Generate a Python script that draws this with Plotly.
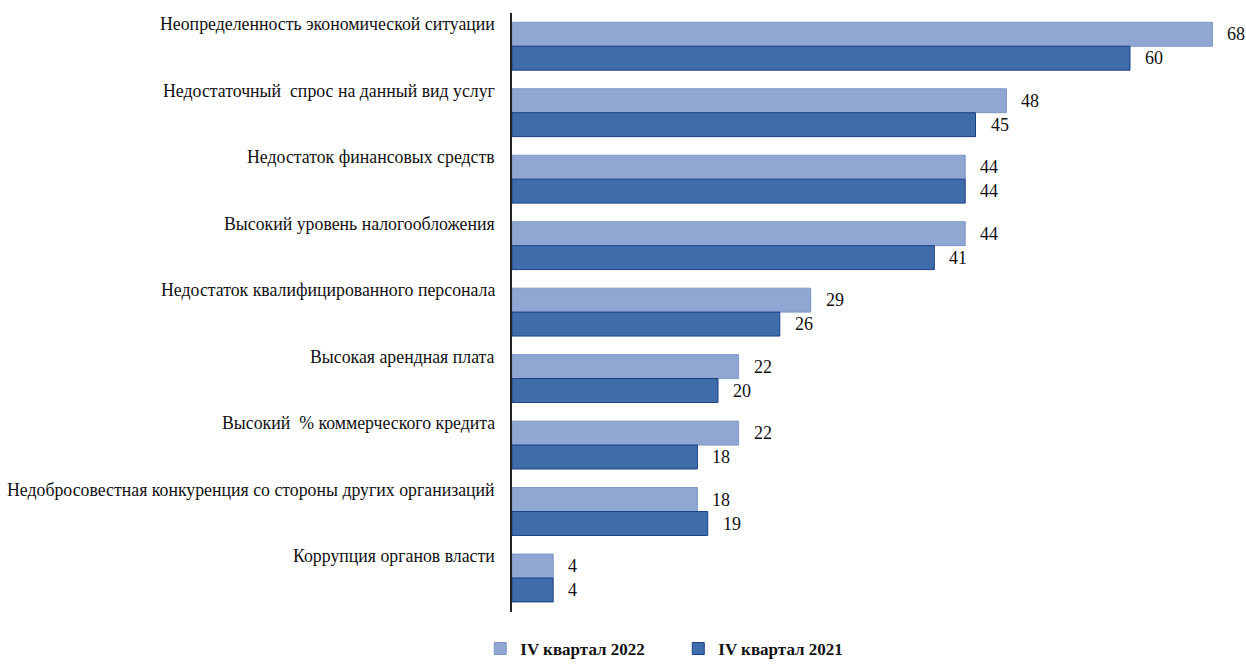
import plotly.graph_objects as go

categories = [
    "Неопределенность экономической ситуации",
    "Недостаточный  спрос на данный вид услуг",
    "Недостаток финансовых средств",
    "Высокий уровень налогообложения",
    "Недостаток квалифицированного персонала",
    "Высокая арендная плата",
    "Высокий  % коммерческого кредита",
    "Недобросовестная конкуренция со стороны других организаций",
    "Коррупция органов власти",
]
q4_2022 = [68, 48, 44, 44, 29, 22, 22, 18, 4]
q4_2021 = [60, 45, 44, 41, 26, 20, 18, 19, 4]

FONT = "Liberation Serif"
LIGHT = "#8fa7d2"
DARK = "#3f6daa"

fig = go.Figure()
fig.add_trace(go.Bar(
    y=categories, x=q4_2022, orientation="h", name="IV квартал 2022",
    marker=dict(color=LIGHT, line=dict(color="#7d96c4", width=1)),
))
fig.add_trace(go.Bar(
    y=categories, x=q4_2021, orientation="h", name="IV квартал 2021",
    marker=dict(color=DARK, line=dict(color="#1d3f85", width=1)),
))

annotations = []
# category captions sit above the centre of each pair of bars
for cat in categories:
    annotations.append(dict(
        x=0, xref="paper", y=cat, yref="y", text=cat.replace("  ", "&nbsp; "),
        xanchor="right", yanchor="middle", xshift=-15, yshift=22,
        showarrow=False, font=dict(family=FONT, size=17.8, color="#111"),
    ))
# value labels to the right of each bar
for values, dy in ((q4_2022, 12), (q4_2021, -12)):
    for cat, v in zip(categories, values):
        annotations.append(dict(
            x=v, y=cat, text=str(v), xanchor="left", yanchor="middle",
            xshift=13, yshift=dy, showarrow=False,
            font=dict(family=FONT, size=18, color="#111"),
        ))

fig.update_layout(
    width=1246, height=667,
    margin=dict(l=512, r=13, t=13, b=0),
    barmode="group", bargap=0.28, bargroupgap=0,
    plot_bgcolor="white", paper_bgcolor="white",
    xaxis=dict(range=[0, 70], visible=False, fixedrange=True),
    yaxis=dict(autorange="reversed", showticklabels=False, ticks="",
               domain=[55 / 654, 1],
               showline=True, linecolor="#222", linewidth=1.5,
               showgrid=False, zeroline=False),
    showlegend=True,
    legend=dict(orientation="h", x=-0.044, xanchor="left", y=0, yanchor="bottom",
                font=dict(family=FONT, size=17, color="#111", weight="bold"),
                itemwidth=30, traceorder="normal",
                entrywidthmode="pixels", entrywidth=153),
    annotations=annotations,
)

fig.write_html("out.html")
